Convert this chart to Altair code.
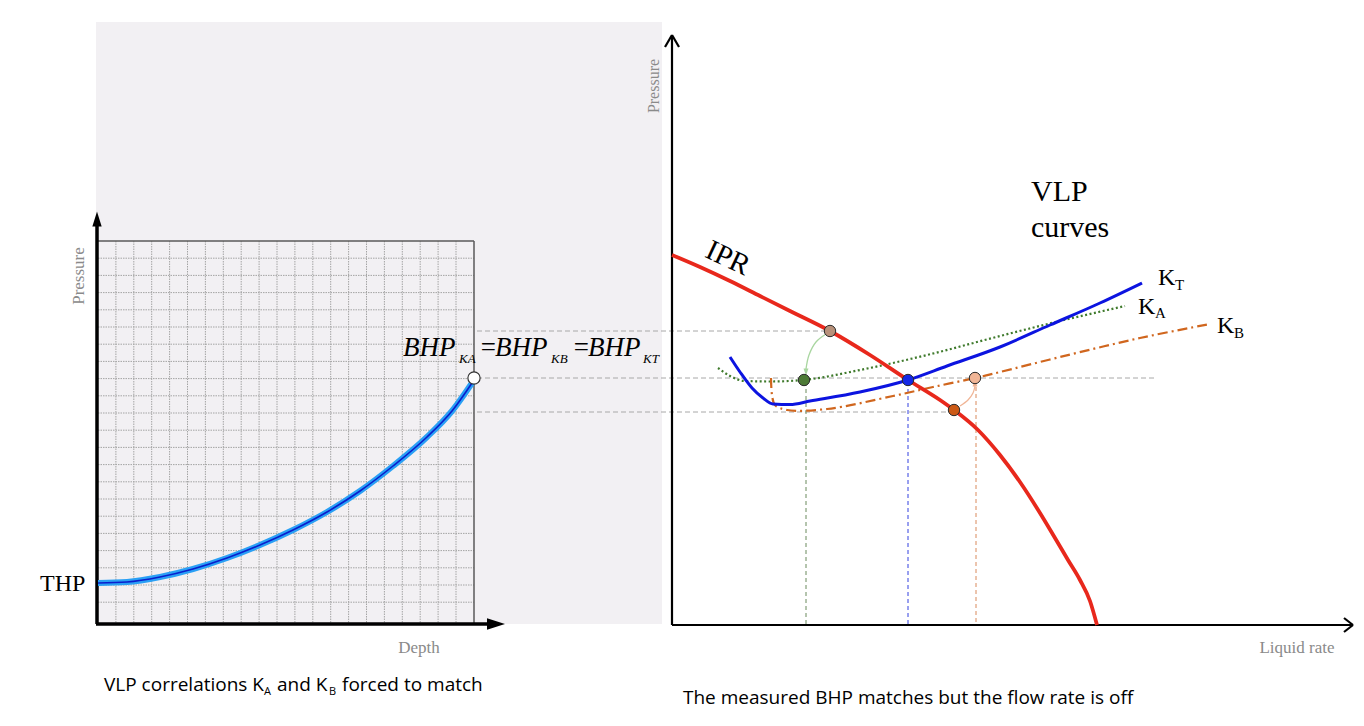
import altair as alt
import pandas as pd

# ---------------- schematic coordinates (x to the right, y downward) ----------------
X0, X1 = 8, 1356
Y0, Y1 = 8, 718

# Left panel: VLP pressure-vs-depth curve
depth_x = [98, 127, 160, 193, 227, 260, 293, 327, 360, 393, 427, 452, 474]
depth_p = [583, 582, 577, 569, 558, 545, 530, 512, 491, 466, 437, 411, 380]

# Right panel: IPR and VLP curves (liquid rate, pressure)
ipr_q = [672, 700, 730, 760, 790, 830, 870, 908, 940, 954, 978, 1000, 1020, 1040, 1055, 1068, 1080, 1090, 1097]
ipr_p = [255, 267, 281, 296, 311, 331, 355, 380, 400, 410, 430, 455, 482, 513, 538, 560, 580, 601, 625]

kt_q = [730, 740, 752, 763, 773, 790, 810, 860, 908, 947, 1000, 1050, 1100, 1142]
kt_p = [357, 372, 388, 398, 404, 404.5, 401, 392, 380, 366, 347, 325, 303, 283]

ka_q = [718, 730, 745, 770, 803, 860, 927, 1000, 1060, 1125]
ka_p = [368, 376, 381, 381.5, 380, 370, 355, 336, 321, 306]

kb_q = [771, 772, 775, 787, 827, 893, 933, 975, 1000, 1060, 1140, 1210]
kb_p = [378, 395, 405, 410, 409, 396, 387, 378, 372, 357, 338, 324]

# operating / matched points
pt_q = [830, 804, 908, 954, 975]
pt_p = [331, 380, 380, 410, 378]
pt_fill = ["#b8917a", "#4d7a36", "#1428e6", "#cc5a16", "#f0b596"]

# curved arrows between points
arrA_q = [826, 816, 809, 806]
arrA_p = [334, 342, 355, 369]
arrB_q = [960, 968, 973, 975]
arrB_p = [406, 400, 393, 386]

# dashed guide lines
hguide_x1 = [477, 477, 477]
hguide_x2 = [828, 1157, 952]
hguide_y = [331, 378, 412]
vguide_x = [806, 908, 976]
vguide_y1 = [382, 382, 380]
vguide_color = ["#6b8a5c", "#3340e0", "#d98a5c"]

# ---------------- helpers ----------------
def X(f="x"):
    return alt.X(f"{f}:Q", scale=alt.Scale(domain=[X0, X1], nice=False, zero=False), axis=None)

def Y(f="y"):
    return alt.Y(f"{f}:Q", scale=alt.Scale(domain=[Y0, Y1], nice=False, zero=False, reverse=True), axis=None)

def line_layer(xs, ys, **mk):
    df = pd.DataFrame({"x": xs, "y": ys, "o": range(len(xs))})
    return alt.Chart(df).mark_line(**mk).encode(x=X(), y=Y(), order=alt.Order("o:Q"))

def seg_layer(rows, **mk):
    df = pd.DataFrame(rows, columns=["x", "x2", "y", "y2"])
    return alt.Chart(df).mark_rule(**mk).encode(x=X(), x2=alt.X2("x2:Q"), y=Y(), y2=alt.Y2("y2:Q"))

def text_layer(rows, **mk):
    df = pd.DataFrame(rows, columns=["t", "x", "y"])
    return alt.Chart(df).mark_text(**mk).encode(x=X(), y=Y(), text="t:N")

layers = []

# left panel gray background
bg = pd.DataFrame({"x": [96], "x2": [662], "y": [22], "y2": [624]})
layers.append(alt.Chart(bg).mark_rect(color="#f2f0f3").encode(x=X(), x2=alt.X2("x2:Q"), y=Y(), y2=alt.Y2("y2:Q")))

# grid
gx = [98 + 17.9 * i for i in range(1, 21)]
gy = [241 + 17.2 * j for j in range(1, 22)]
grid_rows = [(x, x, 241, 623) for x in gx] + [(98, 474, y, y) for y in gy]
layers.append(seg_layer(grid_rows, color="#a4a4a4", strokeWidth=1, strokeDash=[1.5, 1]))
layers.append(seg_layer([(98, 474, 241, 241), (474, 474, 241, 623)], color="#5a5a5a", strokeWidth=1.5))

# dashed guides
layers.append(seg_layer([(a, b, y, y) for a, b, y in zip(hguide_x1, hguide_x2, hguide_y)],
                        color="#a8a8a8", strokeWidth=1, strokeDash=[5, 3]))
for x, y1, c in zip(vguide_x, vguide_y1, vguide_color):
    layers.append(seg_layer([(x, x, y1, 624)], color=c, strokeWidth=1, strokeDash=[4, 3]))

# left axes with filled arrowheads
layers.append(seg_layer([(97, 97, 224, 624), (96, 490, 624, 624)], color="black", strokeWidth=3.5))
ah = pd.DataFrame({"x": [97], "y": [219]})
layers.append(alt.Chart(ah).mark_point(shape="M0,-1L0.62,1L-0.62,1Z", size=225, filled=True,
                                       color="black", opacity=1).encode(x=X(), y=Y()))
ah2 = pd.DataFrame({"x": [496], "y": [624]})
layers.append(alt.Chart(ah2).mark_point(shape="M1,0L-1,-0.65L-1,0.65Z", size=324, filled=True,
                                        color="black", opacity=1).encode(x=X(), y=Y()))

# right axes with open chevrons
layers.append(seg_layer([(672, 672, 36, 625), (672, 1353, 625, 625),
                         (665, 672, 47, 35), (679, 672, 47, 35),
                         (1344, 1353, 618, 625), (1344, 1353, 632, 625)],
                        color="black", strokeWidth=2.2))

# depth curve
layers.append(line_layer(depth_x, depth_p, color="#2aa0f5", strokeWidth=6, interpolate="monotone"))
layers.append(line_layer(depth_x, depth_p, color="#0a1ecc", strokeWidth=1.6, interpolate="monotone"))
wc = pd.DataFrame({"x": [474], "y": [378]})
layers.append(alt.Chart(wc).mark_point(filled=True, size=150, color="white", stroke="#333",
                                       strokeWidth=1.2, opacity=1).encode(x=X(), y=Y()))

# IPR / VLP curves
layers.append(line_layer(ka_q, ka_p, color="#3f7a2c", strokeWidth=2.2, strokeDash=[2, 2.5], interpolate="monotone"))
layers.append(line_layer(kb_q, kb_p, color="#d0661e", strokeWidth=2.2, strokeDash=[10, 4, 2, 4], interpolate="catmull-rom"))
layers.append(line_layer(ipr_q, ipr_p, color="#e8281c", strokeWidth=3.8, interpolate="monotone"))
layers.append(line_layer(kt_q, kt_p, color="#0c14e0", strokeWidth=3, interpolate="monotone"))

# curved arrows
layers.append(line_layer(arrA_q, arrA_p, color="#a9d6a0", strokeWidth=1.3, interpolate="catmull-rom"))
layers.append(line_layer(arrB_q, arrB_p, color="#f0b596", strokeWidth=1.3, interpolate="catmull-rom"))
ahs = pd.DataFrame({"x": [806, 975], "y": [372, 383], "c": ["#a9d6a0", "#f0b596"],
                    "s": ["M0,1L0.7,-1L-0.7,-1Z", "M0,-1L0.7,1L-0.7,1Z"]})
layers.append(alt.Chart(ahs).mark_point(filled=True, size=50, opacity=1).encode(
    x=X(), y=Y(), color=alt.Color("c:N", scale=None), shape=alt.Shape("s:N", scale=None)))

# points
pts = pd.DataFrame({"x": pt_q, "y": pt_p, "c": pt_fill})
layers.append(alt.Chart(pts).mark_point(filled=True, size=130, stroke="#2a2a2a", strokeWidth=1,
                                        opacity=1).encode(x=X(), y=Y(), fill=alt.Fill("c:N", scale=None)))

# ---------------- texts ----------------
serif = "Liberation Serif"
gray = "#8a8a8a"
layers.append(text_layer([("THP", 40, 591)], font=serif, fontSize=24, align="left", baseline="alphabetic", color="black"))
layers.append(text_layer([("VLP", 1031, 201), ("curves", 1031, 237)], font=serif, fontSize=30,
                         align="left", baseline="alphabetic", color="black"))
layers.append(text_layer([("K", 1158, 285), ("K", 1138, 314), ("K", 1217, 333)], font=serif, fontSize=24,
                         align="left", baseline="alphabetic", color="black"))
layers.append(text_layer([("T", 1175, 290), ("A", 1155, 318), ("B", 1234, 338)], font=serif, fontSize=15,
                         align="left", baseline="alphabetic", color="black"))
layers.append(text_layer([("IPR", 728, 258)], font=serif, fontSize=29, align="center", baseline="middle",
                         angle=25, color="black"))
# BHP equation
layers.append(text_layer([("BHP", 403, 356), ("=", 479, 356), ("BHP", 495, 356), ("=", 572, 356), ("BHP", 588, 356)],
                         font=serif, fontSize=27, fontStyle="italic", align="left", baseline="alphabetic", color="black"))
layers.append(text_layer([("KA", 459, 363), ("KB", 551, 363), ("KT", 643, 363)],
                         font=serif, fontSize=13, fontStyle="italic", align="left", baseline="alphabetic", color="black"))
# axis titles
layers.append(text_layer([("Pressure", 79, 276)], font=serif, fontSize=17, align="center", baseline="middle",
                         angle=270, color=gray))
layers.append(text_layer([("Pressure", 654, 86)], font=serif, fontSize=16, align="center", baseline="middle",
                         angle=270, color=gray))
layers.append(text_layer([("Depth", 419, 648), ("Liquid rate", 1297, 648)], font=serif, fontSize=17,
                         align="center", baseline="middle", color=gray))
# captions
sans = "Open Sans"
layers.append(text_layer([("VLP correlations K", 104, 691), ("and K", 277, 691), ("forced to match", 342, 691)],
                         font=sans, fontSize=19, align="left", baseline="alphabetic", color="black"))
layers.append(text_layer([("A", 264, 695), ("B", 329, 695)], font=sans, fontSize=11, align="left",
                         baseline="alphabetic", color="black"))
layers.append(text_layer([("The measured BHP matches but the flow rate is off", 683, 704)], font=sans, fontSize=19,
                         align="left", baseline="alphabetic", color="black"))

chart = alt.layer(*layers).properties(
    width=1348, height=710,
    autosize=alt.AutoSizeParams(type="fit", contains="padding"),
    padding=0,
    background="white",
).configure_view(stroke=None)

chart.save("out.html", embed_options={"renderer": "svg", "actions": False})
